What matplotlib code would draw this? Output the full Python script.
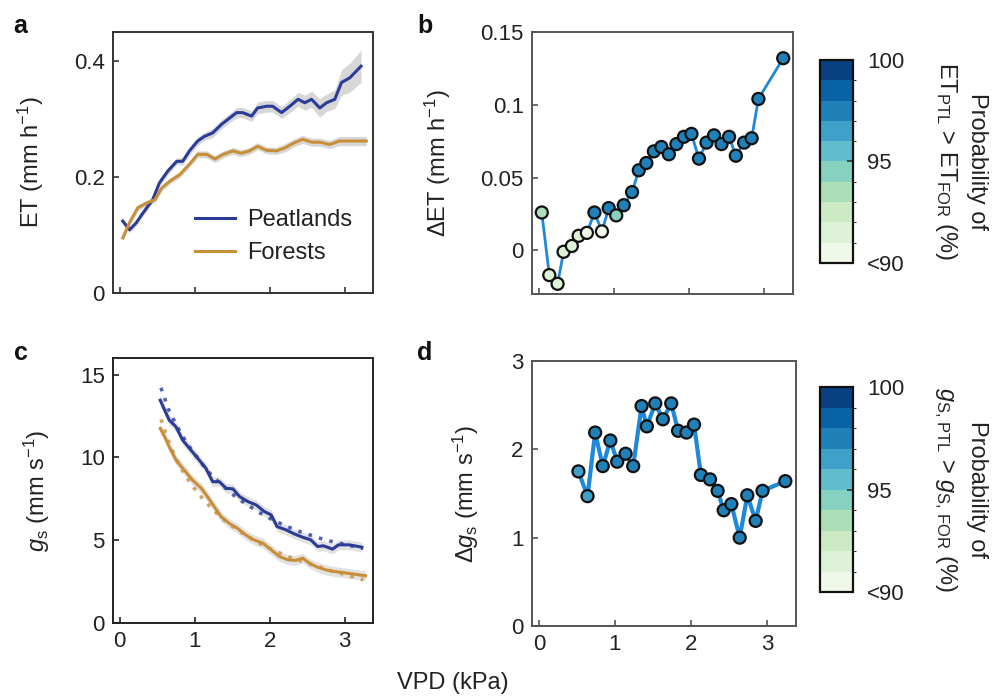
import numpy as np
import matplotlib
matplotlib.use("Agg")
import matplotlib.pyplot as plt
from matplotlib.colors import ListedColormap, BoundaryNorm
from matplotlib.cm import ScalarMappable

plt.rcParams['font.family'] = ['Liberation Sans', 'DejaVu Sans']
plt.rcParams['mathtext.fontset'] = 'custom'
plt.rcParams['mathtext.rm'] = 'Liberation Sans'
plt.rcParams['mathtext.it'] = 'Liberation Sans:italic'
plt.rcParams['mathtext.bf'] = 'Liberation Sans:bold'

# ---- data ----
# panel a: ET vs VPD
a_vpd_ptl = [0.04, 0.13, 0.22, 0.31, 0.44, 0.53, 0.64, 0.76, 0.84, 0.93, 1.04, 1.13, 1.24, 1.36, 1.47, 1.56,
             1.64, 1.76, 1.84, 1.96, 2.04, 2.16, 2.27, 2.38, 2.47, 2.56, 2.67, 2.76, 2.87, 2.96, 3.07, 3.22]
a_et_ptl = [0.124, 0.109, 0.121, 0.138, 0.161, 0.190, 0.210, 0.227, 0.227, 0.245, 0.262, 0.270, 0.276, 0.291,
            0.302, 0.311, 0.311, 0.305, 0.319, 0.322, 0.322, 0.311, 0.322, 0.334, 0.328, 0.334, 0.319, 0.328,
            0.334, 0.363, 0.371, 0.391]
a_err_ptl = [0.005, 0.005, 0.005, 0.005, 0.005, 0.006, 0.006, 0.006, 0.006, 0.007, 0.007, 0.007, 0.008, 0.008,
             0.008, 0.009, 0.009, 0.009, 0.010, 0.010, 0.010, 0.010, 0.011, 0.012, 0.013, 0.014, 0.016, 0.015,
             0.016, 0.022, 0.025, 0.028]
a_vpd_for = [0.04, 0.13, 0.24, 0.36, 0.47, 0.56, 0.67, 0.80, 0.93, 1.04, 1.16, 1.27, 1.38, 1.51, 1.62, 1.73,
             1.84, 1.96, 2.09, 2.20, 2.33, 2.44, 2.56, 2.67, 2.80, 2.93, 3.11, 3.29]
a_et_for = [0.095, 0.121, 0.147, 0.155, 0.161, 0.181, 0.193, 0.204, 0.222, 0.239, 0.239, 0.231, 0.239, 0.245,
            0.241, 0.245, 0.253, 0.246, 0.245, 0.250, 0.259, 0.265, 0.260, 0.260, 0.256, 0.262, 0.262, 0.262]
a_err_for = [0.005, 0.005, 0.005, 0.005, 0.005, 0.005, 0.005, 0.005, 0.005, 0.006, 0.006, 0.006, 0.006, 0.006,
             0.006, 0.006, 0.006, 0.006, 0.006, 0.007, 0.007, 0.007, 0.007, 0.007, 0.007, 0.008, 0.008, 0.008]

# panel b: delta ET and probability
b_vpd = [0.04, 0.14, 0.25, 0.33, 0.44, 0.53, 0.64, 0.74, 0.84, 0.93, 1.03, 1.13, 1.24, 1.33, 1.43, 1.53,
         1.63, 1.73, 1.83, 1.93, 2.03, 2.13, 2.23, 2.33, 2.43, 2.53, 2.62, 2.73, 2.83, 2.92, 3.25]
b_det = [0.026, -0.017, -0.023, -0.001, 0.003, 0.010, 0.012, 0.026, 0.013, 0.029, 0.024, 0.031, 0.040, 0.055,
         0.060, 0.068, 0.071, 0.066, 0.073, 0.078, 0.080, 0.063, 0.074, 0.079, 0.073, 0.078, 0.065, 0.074,
         0.077, 0.104, 0.132]
b_prob = [93.5, 91.5, 91.5, 91.2, 91.2, 91.2, 90.5, 97.5, 90.2, 97.5, 94.5, 97.5, 97.5, 97.5, 97.5, 97.5,
          97.5, 97.5, 97.5, 97.5, 97.5, 97.5, 97.5, 97.5, 97.5, 97.5, 97.5, 97.5, 97.5, 97.5, 97.5]

# panel c: gs vs VPD (solid = observed, dotted = fit)
c_vpd_ptl = [0.54, 0.60, 0.66, 0.75, 0.84, 0.95, 1.06, 1.15, 1.24, 1.33, 1.42, 1.51, 1.60, 1.71, 1.82, 1.93,
             2.02, 2.10, 2.22, 2.33, 2.44, 2.55, 2.64, 2.72, 2.84, 2.92, 3.06, 3.23]
c_gs_ptl = [13.45, 12.85, 12.25, 11.85, 11.04, 10.44, 9.84, 9.34, 8.53, 8.53, 8.13, 8.10, 7.63, 7.33, 7.13,
            6.73, 6.53, 5.82, 5.62, 5.38, 5.18, 5.02, 4.62, 4.66, 4.46, 4.72, 4.72, 4.58]
c_vpd_for = [0.54, 0.60, 0.66, 0.75, 0.86, 0.97, 1.09, 1.17, 1.26, 1.35, 1.46, 1.57, 1.68, 1.79, 1.91, 2.02,
             2.13, 2.24, 2.35, 2.44, 2.53, 2.64, 2.75, 2.86, 2.97, 3.10, 3.28]
c_gs_for = [11.75, 11.24, 10.64, 9.84, 9.24, 8.63, 8.13, 7.63, 7.03, 6.43, 6.02, 5.72, 5.32, 5.02, 4.82, 4.42,
            4.02, 3.82, 3.78, 3.92, 3.61, 3.37, 3.21, 3.11, 3.05, 2.97, 2.85]
c_vpd_fit = [0.55, 0.65, 0.75, 0.85, 0.95, 1.05, 1.15, 1.25, 1.35, 1.45, 1.55, 1.65, 1.75, 1.85, 1.95, 2.05,
             2.15, 2.25, 2.35, 2.45, 2.55, 2.65, 2.75, 2.85, 2.95, 3.05, 3.15, 3.25]
c_fit_ptl = [14.2, 12.9, 12.0, 11.2, 10.5, 9.9, 9.3, 8.8, 8.4, 8.0, 7.6, 7.3, 7.0, 6.7, 6.45, 6.2, 6.0, 5.8,
             5.6, 5.45, 5.3, 5.15, 5.0, 4.9, 4.8, 4.7, 4.6, 4.5]
c_fit_for = [12.3, 11.0, 9.9, 9.1, 8.4, 7.8, 7.3, 6.8, 6.4, 6.0, 5.7, 5.4, 5.1, 4.85, 4.6, 4.4, 4.2, 4.0, 3.85,
             3.7, 3.55, 3.4, 3.25, 3.1, 3.0, 2.85, 2.75, 2.6]

# panel d: delta gs and probability
d_vpd = [0.52, 0.64, 0.74, 0.84, 0.94, 1.03, 1.14, 1.24, 1.35, 1.42, 1.53, 1.63, 1.74, 1.83, 1.94, 2.04,
         2.13, 2.25, 2.35, 2.43, 2.53, 2.64, 2.74, 2.85, 2.94, 3.24]
d_dgs = [1.75, 1.47, 2.19, 1.81, 2.10, 1.86, 1.95, 1.81, 2.49, 2.26, 2.52, 2.34, 2.52, 2.21, 2.19, 2.28,
         1.71, 1.66, 1.53, 1.31, 1.38, 1.00, 1.48, 1.19, 1.53, 1.64]
d_prob = [96.5, 96.5, 97.5, 97.5, 97.5, 97.5, 97.5, 97.5, 97.5, 97.5, 97.5, 97.5, 97.5, 97.5, 97.5, 97.5,
          97.5, 97.5, 97.5, 97.5, 97.5, 97.5, 97.5, 97.5, 97.5, 97.5]

prob_bounds = [90, 91, 92, 93, 94, 95, 96, 97, 98, 99, 100]

# ---- styling ----
TXT = '#222222'
C_PTL = '#2b3c98'
C_FOR = '#c98f38'
C_DIFF = '#1f88d8'
FS = 16

cmap = ListedColormap(plt.get_cmap('GnBu')(np.linspace(0.04, 1.0, 10)))
norm = BoundaryNorm(prob_bounds, cmap.N)

W, H = 1005, 700
fig = plt.figure(figsize=(W / 100, H / 100), dpi=100)


def box(l, t, r, b):
    return [l / W, 1 - b / H, (r - l) / W, (b - t) / H]


def style(ax, spine_col, xlabels=True):
    for s in ax.spines.values():
        s.set_color(spine_col)
        s.set_linewidth(1.4)
    ax.tick_params(direction='in', length=4, width=1.2, colors=spine_col,
                   labelcolor=TXT, labelsize=FS, pad=6)
    ax.set_xlim(-0.09, 3.38)
    ax.set_xticks([0, 1, 2, 3])
    if not xlabels:
        ax.set_xticklabels([])


ax_a = fig.add_axes(box(113, 32, 373, 293))
ax_b = fig.add_axes(box(532, 32, 793, 294))
ax_c = fig.add_axes(box(113, 358, 373, 623))
ax_d = fig.add_axes(box(532, 361, 796, 626))
cax_b = fig.add_axes(box(820, 60, 853, 263))
cax_d = fig.add_axes(box(820, 387, 853, 592))

# panel a
for x, y, e, c, lab in [(a_vpd_ptl, a_et_ptl, a_err_ptl, C_PTL, 'Peatlands'),
                        (a_vpd_for, a_et_for, a_err_for, C_FOR, 'Forests')]:
    x, y, e = np.array(x), np.array(y), np.array(e)
    ax_a.fill_between(x, y - e, y + e, color='#bdbdbd', alpha=0.6, lw=0)
    ax_a.plot(x, y, color=c, lw=2.2, label=lab)
style(ax_a, '#333333', xlabels=False)
ax_a.set_ylim(0, 0.45)
ax_a.set_yticks([0, 0.2, 0.4])
ax_a.set_yticklabels(['0', '0.2', '0.4'])
ax_a.set_ylabel('ET (mm h$^{-1}$)', fontsize=FS + 1, color=TXT, labelpad=20)
ax_a.legend(loc='lower right', bbox_to_anchor=(1.0, 0.03), frameon=False, fontsize=FS + 1,
            handlelength=1.7, handletextpad=0.5, labelspacing=0.45, labelcolor=TXT)

# panel b
ax_b.plot(b_vpd, b_det, color=C_DIFF, lw=2, zorder=2)
ax_b.scatter(b_vpd, b_det, c=b_prob, cmap=cmap, norm=norm, s=75, edgecolors='#111111',
             linewidths=1.6, zorder=3)
style(ax_b, '#555555', xlabels=False)
ax_b.set_ylim(-0.03, 0.15)
ax_b.set_yticks([0, 0.05, 0.1, 0.15])
ax_b.set_yticklabels(['0', '0.05', '0.1', '0.15'])
ax_b.set_ylabel('ΔET (mm h$^{-1}$)', fontsize=FS + 1, color=TXT, labelpad=20)

# panel c
for x, y, c in [(c_vpd_ptl, c_gs_ptl, C_PTL), (c_vpd_for, c_gs_for, C_FOR)]:
    x, y = np.array(x), np.array(y)
    ax_c.fill_between(x, y - 0.3, y + 0.3, color='#cfcfcf', alpha=0.6, lw=0)
    ax_c.plot(x, y, color=c, lw=2.2)
ax_c.plot(c_vpd_fit, c_fit_ptl, color=C_PTL, lw=2.6, ls=(0, (1, 2.0)), alpha=0.8)
ax_c.plot(c_vpd_fit, c_fit_for, color=C_FOR, lw=2.6, ls=(0, (1, 2.0)), alpha=0.8)
style(ax_c, '#222222')
ax_c.set_ylim(0, 16)
ax_c.set_yticks([0, 5, 10, 15])
ax_c.set_ylabel('$g_{\\rm s}$ (mm s$^{-1}$)', fontsize=FS + 1, color=TXT, labelpad=20)

# panel d
ax_d.plot(d_vpd, d_dgs, color=C_DIFF, lw=3, zorder=2)
ax_d.scatter(d_vpd, d_dgs, c=d_prob, cmap=cmap, norm=norm, s=75, edgecolors='#111111',
             linewidths=1.6, zorder=3)
style(ax_d, '#555555')
ax_d.set_ylim(0, 3)
ax_d.set_yticks([0, 1, 2, 3])
ax_d.set_ylabel('Δ$g_{\\rm s}$ (mm s$^{-1}$)', fontsize=FS + 1, color=TXT, labelpad=22)

# colorbars
labels = ['Probability of\nET$_{\\rm PTL}$ > ET$_{\\rm FOR}$ (%)',
          'Probability of\n$g_{\\rm S,\\,PTL}$ > $g_{\\rm S,\\,FOR}$ (%)']
for cax, lab in zip([cax_b, cax_d], labels):
    cb = fig.colorbar(ScalarMappable(norm=norm, cmap=cmap), cax=cax, ticks=[90, 95, 100])
    cb.ax.set_yticklabels(['<90', '95', '100'])
    cb.outline.set_linewidth(1.6)
    cb.outline.set_edgecolor('#111111')
    cb.ax.tick_params(direction='in', length=4, width=1.2, colors='#333333',
                      labelcolor=TXT, labelsize=FS, pad=10)
    cb.set_label(lab, rotation=270, fontsize=FS + 1, color=TXT, labelpad=60,
                 linespacing=1.35)

# panel letters and shared x label
for lab, x, y in [('a', 13, 33), ('b', 417, 33), ('c', 14, 360), ('d', 417, 360)]:
    fig.text(x / W, 1 - y / H, lab, fontsize=FS + 2, fontweight='bold', color='#111111', va='baseline')
fig.text(453 / W, 1 - 683 / H, 'VPD (kPa)', fontsize=FS + 1, color=TXT, ha='center', va='center')

fig.savefig('out.png', dpi=100)
